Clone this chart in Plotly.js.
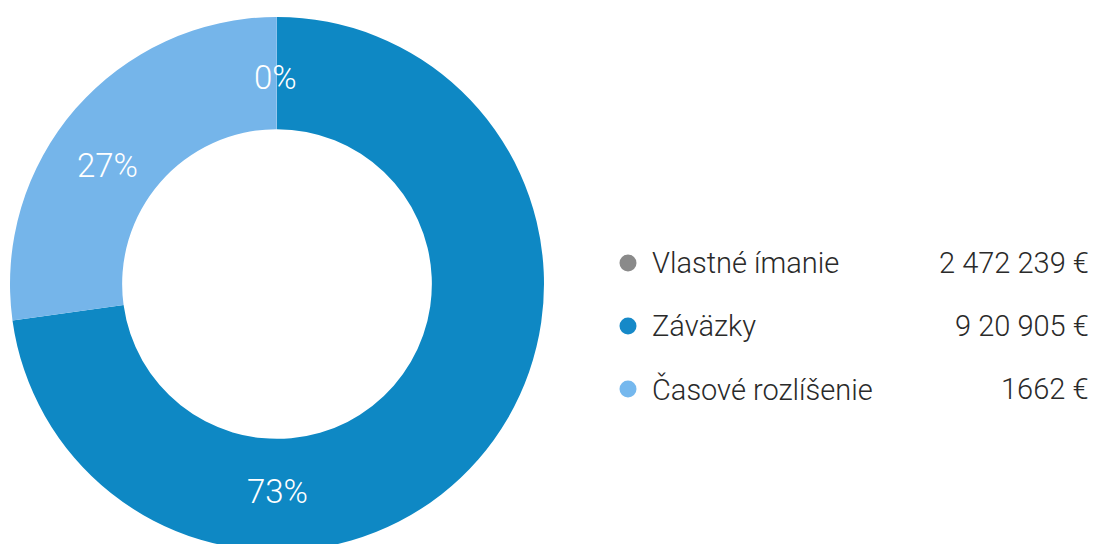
<!DOCTYPE html>
<html>
<head>
<meta charset="utf-8">
<script src="https://cdn.plot.ly/plotly-3.0.1.min.js"></script>
<style>
html,body{margin:0;padding:0;overflow:hidden;background:#fff;}
#chart{width:1099px;height:568px;}
</style>
</head>
<body>
<div id="chart"></div>
<script>
// ---- data ----
var categories = ["Vlastné ímanie", "Záväzky", "Časové rozlíšenie"];
var values = [2472239, 920905, 1662];
var valueLabels = ["2 472 239 €", "9 20 905 €", "1662 €"];
var sliceColors = ["#0E88C4", "#75B5EA", "#75B5EA"];
var legendColors = ["#8A8A8A", "#1689C8", "#75B8EE"];

// ---- layout constants ----
var W = 1099, H = 568;
var cx = 277, cy = 284, R = 267;
var labelRadius = 207;
var labelAngles = [180, 305, 359.5]; // degrees clockwise from top
var legendDotX = 628, legendTextX = 650, legendValueX = 1091;
var legendRowY = [263, 326, 389];

var total = values.reduce(function(a,b){return a+b;},0);

var pie = {
  type: "pie",
  values: values,
  labels: categories,
  sort: false,
  direction: "clockwise",
  rotation: 0,
  hole: 0.58,
  textinfo: "none",
  hoverinfo: "skip",
  marker: {colors: sliceColors, line: {width: 0}},
  domain: {x: [(cx - R)/W, (cx + R)/W], y: [1 - (cy + R)/H, 1 - (cy - R)/H]},
  showlegend: false
};

var dots = {
  type: "scatter",
  mode: "markers",
  x: categories.map(function(){return legendDotX;}),
  y: legendRowY,
  marker: {color: legendColors, size: 17},
  hoverinfo: "skip",
  showlegend: false,
  xaxis: "x", yaxis: "y"
};

var annotations = [];
values.forEach(function(v, i){
  var a = labelAngles[i] * Math.PI / 180;
  var px = cx + labelRadius * Math.sin(a);
  var py = cy - labelRadius * Math.cos(a);
  annotations.push({
    xref: "paper", yref: "paper",
    x: px / W, y: 1 - py / H,
    xanchor: "center", yanchor: "middle",
    text: Math.round(v / total * 100) + "%",
    showarrow: false,
    font: {family: "Roboto", weight: 300, size: 33, color: "#ffffff"}
  });
});
categories.forEach(function(c, i){
  annotations.push({
    xref: "paper", yref: "paper",
    x: legendTextX / W, y: 1 - legendRowY[i] / H,
    xanchor: "left", yanchor: "middle",
    text: c, showarrow: false,
    font: {family: "Roboto", weight: 300, size: 29, color: "#2a2a2a"}
  });
  annotations.push({
    xref: "paper", yref: "paper",
    x: legendValueX / W, y: 1 - legendRowY[i] / H,
    xanchor: "right", yanchor: "middle",
    text: valueLabels[i], showarrow: false,
    font: {family: "Roboto", weight: 300, size: 29, color: "#2a2a2a"}
  });
});

var layout = {
  width: W, height: H,
  margin: {l: 0, r: 0, t: 0, b: 0},
  paper_bgcolor: "#ffffff",
  plot_bgcolor: "rgba(0,0,0,0)",
  xaxis: {range: [0, W], visible: false, fixedrange: true},
  yaxis: {range: [H, 0], visible: false, fixedrange: true},
  annotations: annotations,
  showlegend: false
};

Plotly.newPlot("chart", [pie, dots], layout, {displayModeBar: false, staticPlot: true});
</script>
</body>
</html>
